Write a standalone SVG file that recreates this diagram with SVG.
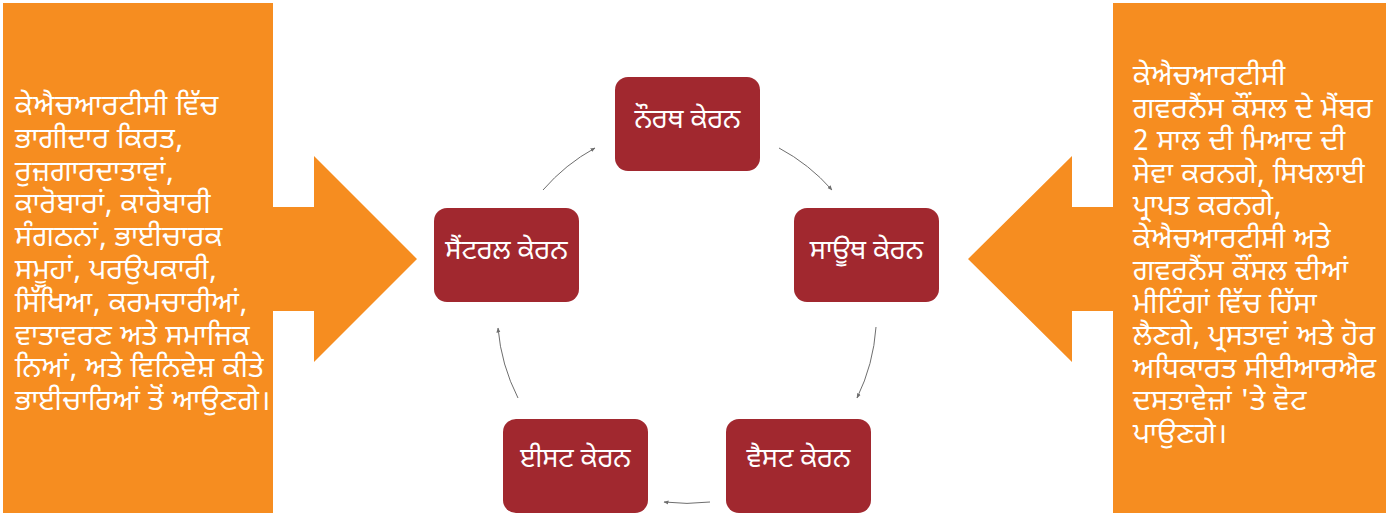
<svg xmlns="http://www.w3.org/2000/svg" width="1389" height="516" viewBox="0 0 1389 516">
<style>
.panel{fill:#F68D20}
.node rect{fill:#A1282F}
.nt{font-family:"Noto Sans Gurmukhi","Lohit Gurmukhi","Mukta Mahee","Noto Sans",sans-serif;font-size:27px;fill:#ffffff;text-anchor:middle}
.pt{font-family:"Noto Sans Gurmukhi","Lohit Gurmukhi","Mukta Mahee","Noto Sans",sans-serif;font-size:28.5px;letter-spacing:0.4px;fill:#ffffff}
.conn path{fill:none;stroke:#6e6e6e;stroke-width:1}
</style>
<defs>
<marker id="ah" viewBox="0 0 10 10" refX="9" refY="5" markerWidth="5" markerHeight="5" orient="auto" markerUnits="userSpaceOnUse">
<path d="M0,1 L10,5 L0,9 Z" fill="#6e6e6e"/>
</marker>
</defs>
<rect width="1389" height="516" fill="#ffffff"/>
<g id="left-panel">
<polygon class="panel" points="3,3 273,3 273,207 314,207 314,156 417,259 314,362 314,311 273,311 273,513 3,513"/>
<text class="pt">
<tspan x="15" y="115">ਕੇਐਚਆਰਟੀਸੀ ਵਿੱਚ</tspan>
<tspan x="15" y="147.8">ਭਾਗੀਦਾਰ ਕਿਰਤ,</tspan>
<tspan x="15" y="180.6">ਰੁਜ਼ਗਾਰਦਾਤਾਵਾਂ,</tspan>
<tspan x="15" y="213.4">ਕਾਰੋਬਾਰਾਂ, ਕਾਰੋਬਾਰੀ</tspan>
<tspan x="15" y="246.2">ਸੰਗਠਨਾਂ, ਭਾਈਚਾਰਕ</tspan>
<tspan x="15" y="279">ਸਮੂਹਾਂ, ਪਰਉਪਕਾਰੀ,</tspan>
<tspan x="15" y="311.8">ਸਿੱਖਿਆ, ਕਰਮਚਾਰੀਆਂ,</tspan>
<tspan x="15" y="344.6">ਵਾਤਾਵਰਣ ਅਤੇ ਸਮਾਜਿਕ</tspan>
<tspan x="15" y="377.4">ਨਿਆਂ, ਅਤੇ ਵਿਨਿਵੇਸ਼ ਕੀਤੇ</tspan>
<tspan x="15" y="410.2">ਭਾਈਚਾਰਿਆਂ ਤੋਂ ਆਉਣਗੇ।</tspan>
</text>
</g>
<g id="right-panel">
<polygon class="panel" points="1386,3 1113,3 1113,207 1072,207 1072,156 968,259 1072,362 1072,311 1113,311 1113,513 1386,513"/>
<text class="pt">
<tspan x="1133" y="85">ਕੇਐਚਆਰਟੀਸੀ</tspan>
<tspan x="1133" y="117.5">ਗਵਰਨੈਂਸ ਕੌਂਸਲ ਦੇ ਮੈਂਬਰ</tspan>
<tspan x="1133" y="150">2 ਸਾਲ ਦੀ ਮਿਆਦ ਦੀ</tspan>
<tspan x="1133" y="182.5">ਸੇਵਾ ਕਰਨਗੇ, ਸਿਖਲਾਈ</tspan>
<tspan x="1133" y="215">ਪ੍ਰਾਪਤ ਕਰਨਗੇ,</tspan>
<tspan x="1133" y="247.5">ਕੇਐਚਆਰਟੀਸੀ ਅਤੇ</tspan>
<tspan x="1133" y="280">ਗਵਰਨੈਂਸ ਕੌਂਸਲ ਦੀਆਂ</tspan>
<tspan x="1133" y="312.5">ਮੀਟਿੰਗਾਂ ਵਿੱਚ ਹਿੱਸਾ</tspan>
<tspan x="1133" y="345">ਲੈਣਗੇ, ਪ੍ਰਸਤਾਵਾਂ ਅਤੇ ਹੋਰ</tspan>
<tspan x="1133" y="377.5">ਅਧਿਕਾਰਤ ਸੀਈਆਰਐਫ</tspan>
<tspan x="1133" y="410">ਦਸਤਾਵੇਜ਼ਾਂ 'ਤੇ ਵੋਟ</tspan>
<tspan x="1133" y="442.5">ਪਾਉਣਗੇ।</tspan>
</text>
</g>
<g id="node-north" class="node">
<rect x="615" y="77" width="145" height="94" rx="13"/>
<text class="nt" x="687.5" y="128">ਨੌਰਥ ਕੇਰਨ</text>
</g>
<g id="node-central" class="node">
<rect x="434" y="208" width="145" height="94" rx="13"/>
<text class="nt" x="506.5" y="259">ਸੈਂਟਰਲ ਕੇਰਨ</text>
</g>
<g id="node-south" class="node">
<rect x="794" y="208" width="145" height="94" rx="13"/>
<text class="nt" x="866.5" y="259">ਸਾਊਥ ਕੇਰਨ</text>
</g>
<g id="node-east" class="node">
<rect x="503" y="419" width="145" height="94" rx="13"/>
<text class="nt" x="575.5" y="467">ਈਸਟ ਕੇਰਨ</text>
</g>
<g id="node-west" class="node">
<rect x="726" y="419" width="145" height="94" rx="13"/>
<text class="nt" x="798.5" y="467">ਵੈਸਟ ਕੇਰਨ</text>
</g>
<g id="connectors" class="conn">
<path d="M543,190 A190,190 0 0 1 595,148" marker-end="url(#ah)"/>
<path d="M779,148 A190,190 0 0 1 832,190" marker-end="url(#ah)"/>
<path d="M876,327 A190,190 0 0 1 857,398" marker-end="url(#ah)"/>
<path d="M710,502 A190,190 0 0 1 664,502" marker-end="url(#ah)"/>
<path d="M518,398 A190,190 0 0 1 498,328" marker-end="url(#ah)"/>
</g>
</svg>
